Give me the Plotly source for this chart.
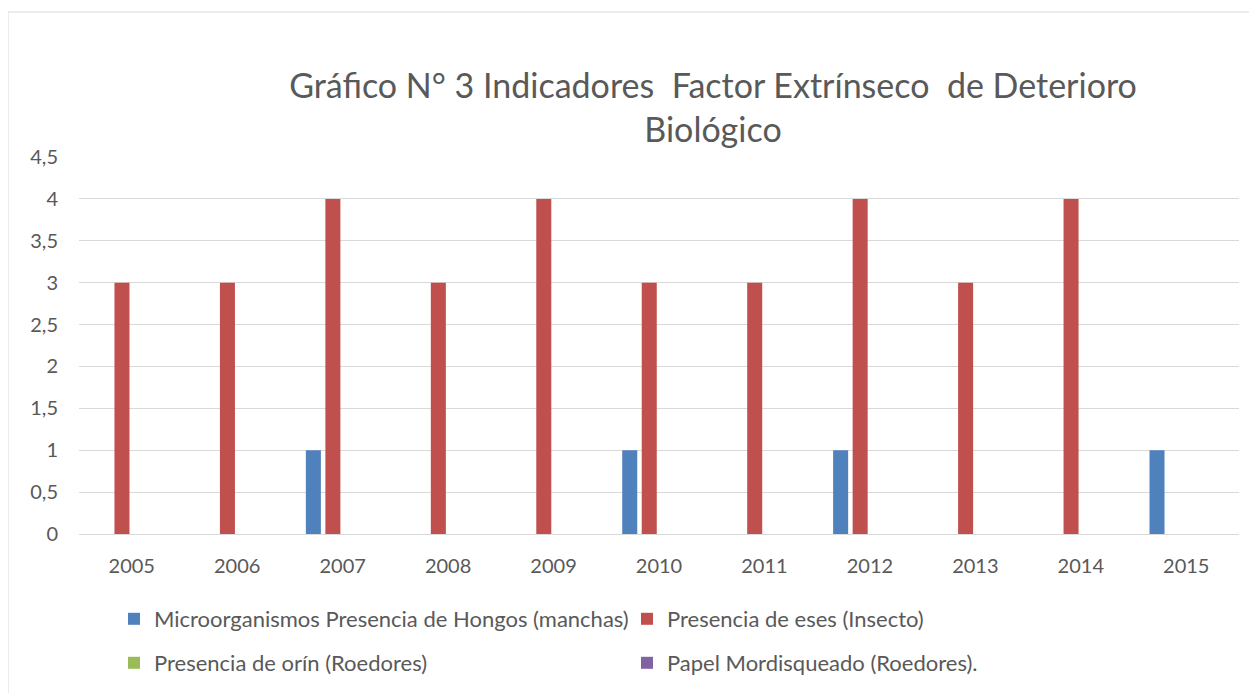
import plotly.graph_objects as go

years = ["2005", "2006", "2007", "2008", "2009", "2010", "2011", "2012", "2013", "2014", "2015"]
series_names = [
    "Microorganismos Presencia de Hongos (manchas)",
    "Presencia de eses (Insecto)",
    "Presencia de orín (Roedores)",
    "Papel Mordisqueado (Roedores).",
]
hongos = [0, 0, 1, 0, 0, 1, 0, 1, 0, 0, 1]
eses = [3, 3, 4, 3, 4, 3, 3, 4, 3, 4, 0]
orin = [0, 0, 0, 0, 0, 0, 0, 0, 0, 0, 0]
papel = [0, 0, 0, 0, 0, 0, 0, 0, 0, 0, 0]
colors = ["#4F81BD", "#C0504D", "#9BBB59", "#8064A2"]
title_text = "Gráfico N° 3 Indicadores  Factor Extrínseco  de Deterioro<br>Biológico"

# the page places the figure 8px in from the top-left corner
OFF = 8
W, H = 1257 - OFF, 693 - OFF
L = 79 - OFF
R = W - (1239 - OFF)
T = 157 - OFF
B = H - (534 - OFF)
pw = W - L - R
ph = H - T - B

def px_x(px):
    return (px - OFF - L) / pw

def px_y(py):
    return (H - B - (py - OFF)) / ph

font_family = "Lato, 'Open Sans', sans-serif"
txt_color = "#595959"

fig = go.Figure()
all_vals = [hongos, eses, orin, papel]
legends = ["legend", "legend", "legend2", "legend2"]
for name, vals, col, lg in zip(series_names, all_vals, colors, legends):
    fig.add_trace(go.Bar(
        x=years, y=vals, name=name, marker_color=col,
        marker_line_width=0, legend=lg,
    ))

legend_common = dict(orientation="h", xanchor="left", yanchor="middle",
                     entrywidth=468, entrywidthmode="pixels", itemwidth=30,
                     font=dict(size=22, color=txt_color), bgcolor="rgba(0,0,0,0)")

fig.update_layout(
    width=W, height=H,
    margin=dict(l=L, r=R, t=T, b=B, autoexpand=False),
    paper_bgcolor="white", plot_bgcolor="white",
    barmode="group", bargap=0.26, bargroupgap=0.23,
    separators=",.",
    font=dict(family=font_family, color=txt_color, size=20),
    title=dict(
        text=title_text, x=(713 - OFF) / W, xanchor="center", xref="container",
        y=1 - (98 - OFF) / H, yanchor="middle",
        font=dict(size=34, color=txt_color, family=font_family),
    ),
    xaxis=dict(showgrid=False, showline=True, linecolor="#d9d9d9", linewidth=1,
               ticks="", tickfont=dict(size=20, color=txt_color), ticklabelstandoff=14),
    yaxis=dict(range=[0, 4.5], dtick=0.5, showgrid=True, gridcolor="#d9d9d9", gridwidth=1,
               zeroline=False, showline=False, ticks="",
               tickfont=dict(size=20, color=txt_color), ticklabelstandoff=20),
    legend=dict(x=px_x(114), y=px_y(619), **legend_common),
    legend2=dict(x=px_x(114), y=px_y(663), **legend_common),
    shapes=[dict(type="rect", xref="paper", yref="paper",
                 x0=px_x(8), x1=px_x(1270), y0=px_y(710), y1=px_y(12),
                 line=dict(color="#d9d9d9", width=1), fillcolor="rgba(0,0,0,0)", layer="below")],
)

fig.write_html("out.html")
